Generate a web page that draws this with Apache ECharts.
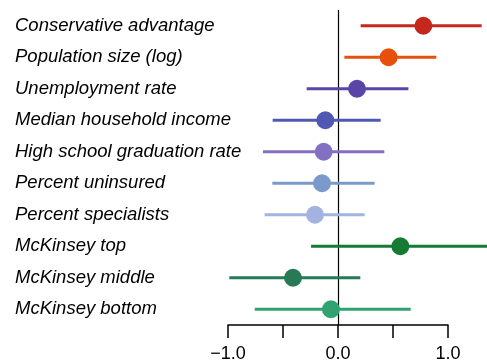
<!DOCTYPE html>
<html>
<head>
<meta charset="utf-8">
<script src="https://cdn.jsdelivr.net/npm/echarts@6/dist/echarts.min.js"></script>
<style>
  html, body { margin: 0; padding: 0; background: #fff; }
  #chart { width: 487px; height: 363px; }
</style>
</head>
<body>
<div id="chart"></div>
<script>
// Predictors, top to bottom
const predictors = [
  'Conservative advantage',
  'Population size (log)',
  'Unemployment rate',
  'Median household income',
  'High school graduation rate',
  'Percent uninsured',
  'Percent specialists',
  'McKinsey top',
  'McKinsey middle',
  'McKinsey bottom'
];
// Point estimates and interval bounds
const estimates = [0.776, 0.46, 0.173, -0.115, -0.13, -0.145, -0.209, 0.567, -0.409, -0.064];
const lower     = [0.206, 0.058, -0.285, -0.594, -0.682, -0.597, -0.667, -0.245, -0.988, -0.757];
const upper     = [1.306, 0.894, 0.64, 0.388, 0.421, 0.333, 0.242, 1.45, 0.203, 0.661];
const colors = ['#C4281C', '#E6500A', '#5A44A8', '#5058B4', '#8470C2',
                '#7B9ACB', '#A2B3E2', '#157A33', '#267A55', '#31A371'];
const xTicks = [-1, -0.5, 0, 0.5, 1];
const xTickLabels = { '-1': '\u22121.0', '0': '0.0', '1': '1.0' };

const rows = predictors.map((p, i) => [i, estimates[i], lower[i], upper[i]]);

const chart = echarts.init(document.getElementById('chart'));
chart.setOption({
  animation: false,
  grid: { left: 228, right: 39, top: 10, height: 315 },
  xAxis: {
    type: 'value',
    min: xTicks[0],
    max: xTicks[xTicks.length - 1],
    interval: 0.5,
    axisLine: { show: true, lineStyle: { color: '#000', width: 1.5 } },
    axisTick: { show: true, length: 13, lineStyle: { color: '#000', width: 1.5 } },
    axisLabel: {
      color: '#000', fontSize: 18, fontFamily: 'Liberation Sans', margin: 20,
      formatter: v => xTickLabels[String(v)] || ''
    },
    splitLine: { show: false }
  },
  yAxis: {
    type: 'category',
    data: predictors,
    inverse: true,
    axisLine: { show: false },
    axisTick: { show: false },
    axisLabel: {
      color: '#000', fontSize: 18.5, fontStyle: 'italic',
      fontFamily: 'Liberation Sans', align: 'left', margin: 213
    }
  },
  series: [{
    type: 'custom',
    clip: false,
    data: rows,
    encode: { x: [1, 2, 3], y: 0 },
    renderItem: function (params, api) {
      const i = api.value(0);
      const c = colors[i];
      const pEst = api.coord([api.value(1), i]);
      const pLo = api.coord([api.value(2), i]);
      const pHi = api.coord([api.value(3), i]);
      return {
        type: 'group',
        children: [
          { type: 'line', shape: { x1: pLo[0], y1: pLo[1], x2: pHi[0], y2: pHi[1] },
            style: { stroke: c, lineWidth: 3 } },
          { type: 'circle', shape: { cx: pEst[0], cy: pEst[1], r: 9 },
            style: { fill: c } }
        ]
      };
    },
    markLine: {
      silent: true,
      symbol: 'none',
      label: { show: false },
      lineStyle: { color: '#000', width: 1.2, type: 'solid' },
      data: [{ xAxis: 0 }],
      z: 0
    }
  }]
});
</script>
</body>
</html>
